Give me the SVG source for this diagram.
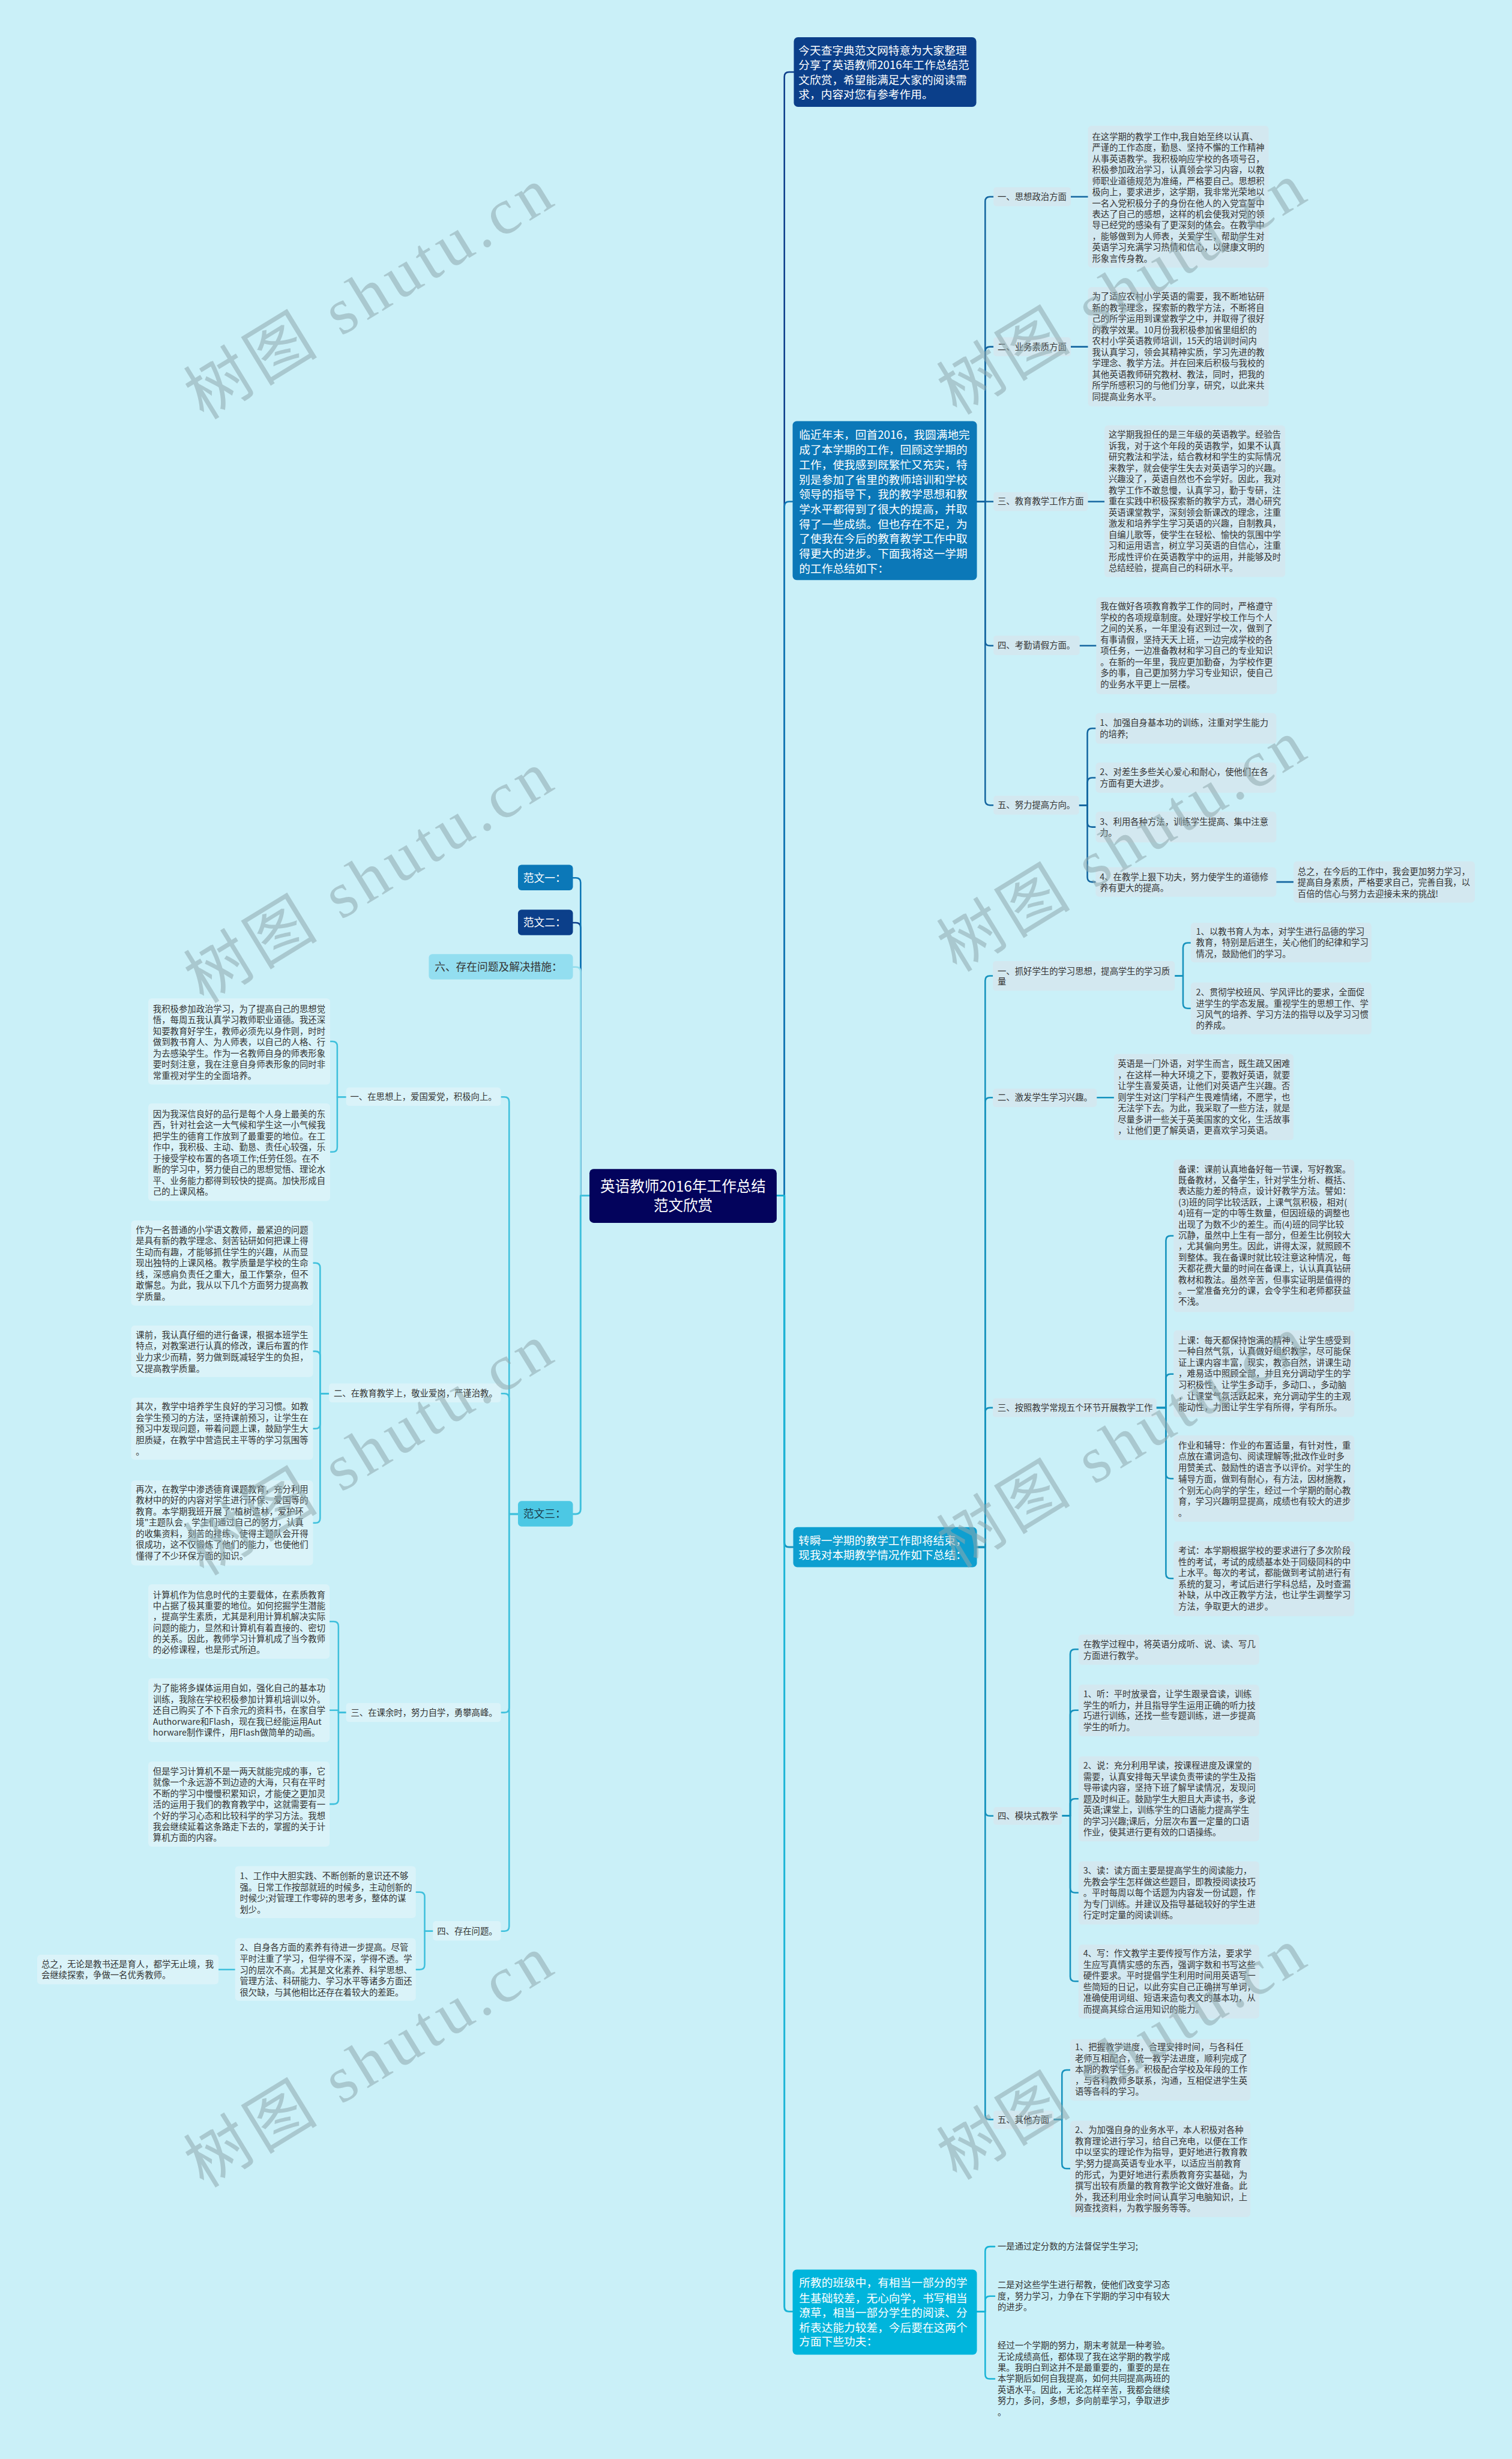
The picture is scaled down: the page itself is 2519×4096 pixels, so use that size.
<svg xmlns="http://www.w3.org/2000/svg" width="2519" height="4096" viewBox="0 0 2519 4096">
<style>
.t{font-family:"Noto Sans CJK SC","Noto Sans",sans-serif;font-size:14.6px;fill:#333}
.tw{font-family:"Noto Sans CJK SC","Noto Sans",sans-serif;font-size:19px;fill:#fff}
.tl{font-family:"Noto Sans CJK SC","Noto Sans",sans-serif;font-size:18px}
.rb{fill:#d3e8f0}
.lb{fill:#daf3f9}
.c{fill:none;stroke-width:2.6;stroke-linecap:round;stroke-linejoin:round}
.wm{font-family:"Liberation Serif","Noto Sans CJK SC",serif;font-size:110px;fill:#8fa9ae;opacity:0.55}
</style>
<rect x="0" y="0" width="2519" height="4096" fill="#caf0f8"/>
<g transform="scale(0.984)">
<g id="connectors">
<g class="c" stroke="#0d3f8c" stroke-width="3">
<path d="M1315,2024 H1328 V130 Q1328,122 1336,122 H1344"/>
<path d="M998,2024 H983 V1570 Q983,1562 975,1562 H970"/>
</g>
<g class="c" stroke="#0e77b5" stroke-width="3">
<path d="M1315,2024 H1328 V857 Q1328,849 1336,849 H1342"/>
<path d="M998,2024 H983 V1494 Q983,1486 975,1486 H970"/>
</g>
<g class="c" stroke="#1466a0">
<path d="M1654,849 H1668 V341 Q1668,333 1676,333 H1682"/>
<path d="M1654,849 H1668 V595 Q1668,587 1676,587 H1682"/>
<path d="M1654,849 H1682"/>
<path d="M1654,849 H1668 V1085 Q1668,1093 1676,1093 H1682"/>
<path d="M1654,849 H1668 V1355 Q1668,1363 1676,1363 H1682"/>
<path d="M1813,333 H1842"/>
<path d="M1813,587 H1842"/>
<path d="M1842,849 H1870"/>
<path d="M1828,1093 H1856"/>
<path d="M1827,1363 H1841 V1241 Q1841,1233 1849,1233 H1855"/>
<path d="M1827,1363 H1841 V1324.5 Q1841,1316.5 1849,1316.5 H1855"/>
<path d="M1827,1363 H1841 V1392 Q1841,1400 1849,1400 H1855"/>
<path d="M1827,1363 H1841 V1485 Q1841,1493 1849,1493 H1855"/>
<path d="M2161,1493 H2190"/>
</g>
<g class="c" stroke="#1592bd">
<path d="M1315,2024 H1328 V2611 Q1328,2619 1336,2619 H1343" stroke-width="3"/>
<path d="M1654,2619 H1668 V1660 Q1668,1652 1676,1652 H1681"/>
<path d="M1654,2619 H1668 V1866 Q1668,1858 1676,1858 H1681"/>
<path d="M1654,2619 H1668 V2391 Q1668,2383 1676,2383 H1681"/>
<path d="M1654,2619 H1668 V3066 Q1668,3074 1676,3074 H1682"/>
<path d="M1654,2619 H1668 V3580 Q1668,3588 1676,3588 H1682"/>
<path d="M1989,1652 H2003 V1604 Q2003,1596 2011,1596 H2016"/>
<path d="M1989,1652 H2003 V1699 Q2003,1707 2011,1707 H2016"/>
<path d="M1857,1858 H1886"/>
<path d="M1958,2383 H1974 V2100 Q1974,2092 1982,2092 H1987"/>
<path d="M1958,2383 H1974 V2334 Q1974,2326 1982,2326 H1987"/>
<path d="M1958,2383 H1974 V2495 Q1974,2503 1982,2503 H1987"/>
<path d="M1958,2383 H1974 V2664 Q1974,2672 1982,2672 H1987"/>
<path d="M1798,3074 H1812 V2800 Q1812,2792 1820,2792 H1826"/>
<path d="M1798,3074 H1812 V2903 Q1812,2895 1820,2895 H1826"/>
<path d="M1798,3074 H1812 V3053 Q1812,3045 1820,3045 H1826"/>
<path d="M1798,3074 H1812 V3196 Q1812,3204 1820,3204 H1826"/>
<path d="M1798,3074 H1812 V3346 Q1812,3354 1820,3354 H1826"/>
<path d="M1784,3588 H1798 V3512 Q1798,3504 1806,3504 H1812"/>
<path d="M1784,3588 H1798 V3663 Q1798,3671 1806,3671 H1812"/>
</g>
<g class="c" stroke="#1ab4d6">
<path d="M1315,2024 H1328 V3905 Q1328,3913 1336,3913 H1342" stroke-width="3"/>
<path d="M1654,3913 H1668 V3811 Q1668,3803 1676,3803 H1684"/>
<path d="M1654,3913 H1668 V3895 Q1668,3887 1676,3887 H1684"/>
<path d="M1654,3913 H1668 V4019 Q1668,4027 1676,4027 H1684"/>
</g>
<path class="c" stroke="#8fdcec" stroke-width="3" d="M998,2024 H983 V1645 Q983,1637 975,1637 H970"/>
<g class="c" stroke="#3fc0dc">
<path d="M998,2024 H983 V2555 Q983,2563 975,2563 H970" stroke-width="3"/>
<path d="M877,2563 H862 V1865 Q862,1857 854,1857 H849"/>
<path d="M877,2563 H862 V2367 Q862,2359 854,2359 H849"/>
<path d="M877,2563 H862 V2891 Q862,2899 854,2899 H849"/>
<path d="M877,2563 H862 V3261 Q862,3269 854,3269 H849"/>
<path d="M586,1857 H571 V1771 Q571,1763 563,1763 H559"/>
<path d="M586,1857 H571 V1942 Q571,1950 563,1950 H559"/>
<path d="M557,2359 H542 V2146 Q542,2138 534,2138 H530"/>
<path d="M557,2359 H542 V2295.5 Q542,2287.5 534,2287.5 H530"/>
<path d="M557,2359 H542 V2410.5 Q542,2418.5 534,2418.5 H530"/>
<path d="M557,2359 H542 V2570 Q542,2578 534,2578 H530"/>
<path d="M586,2899 H573 V2753 Q573,2745 565,2745 H558"/>
<path d="M586,2899 H573 V2895 H558"/>
<path d="M586,2899 H573 V3046 Q573,3054 565,3054 H558"/>
<path d="M733,3269 H719 V3211 Q719,3203 711,3203 H704"/>
<path d="M733,3269 H719 V3326 Q719,3334 711,3334 H704"/>
<path d="M398,3334 H370"/>
</g>
</g>

<g id="center">
<rect x="998" y="1979" width="317" height="91" rx="7" fill="#03035c"/>
<text font-family="Noto Sans CJK SC, sans-serif" font-size="25" fill="#fff" text-anchor="middle"><tspan x="1156.5" y="2017">英语教师2016年工作总结</tspan><tspan x="1156.5" y="2050">范文欣赏</tspan></text>
</g>

<g id="intro">
<rect x="1344" y="63" width="309" height="118" rx="7" fill="#0b3f8a"/>
<text class="tw"><tspan x="1352" y="92">今天查字典范文网特意为大家整理</tspan><tspan x="1352" y="117">分享了英语教师2016年工作总结范</tspan><tspan x="1352" y="142">文欣赏，希望能满足大家的阅读需</tspan><tspan x="1352" y="167">求，内容对您有参考作用。</tspan></text>
</g>

<g id="fanwen1">
<rect x="1342" y="713" width="312" height="269" rx="7" fill="#0b78b8"/>
<text class="tw"><tspan x="1353" y="743.3">临近年末，回首2016，我圆满地完</tspan><tspan x="1353" y="768.4">成了本学期的工作，回顾这学期的</tspan><tspan x="1353" y="793.5">工作，使我感到既繁忙又充实，特</tspan><tspan x="1353" y="818.6">别是参加了省里的教师培训和学校</tspan><tspan x="1353" y="843.7">领导的指导下，我的教学思想和教</tspan><tspan x="1353" y="868.8">学水平都得到了很大的提高，并取</tspan><tspan x="1353" y="893.9">得了一些成绩。但也存在不足，为</tspan><tspan x="1353" y="919">了使我在今后的教育教学工作中取</tspan><tspan x="1353" y="944.1">得更大的进步。下面我将这一学期</tspan><tspan x="1353" y="969.2">的工作总结如下：</tspan></text>
</g>

<g id="a1">
<rect class="rb" x="1682" y="317" width="131" height="32" rx="5"/>
<text class="t" x="1689" y="338">一、思想政治方面</text>
</g>
<g id="a1t">
<rect class="rb" x="1842" y="213" width="306" height="240" rx="6"/>
<text class="t"><tspan x="1849" y="236.7">在这学期的教学工作中,我自始至终以认真、</tspan><tspan x="1849" y="255.4">严谨的工作态度，勤恳、坚持不懈的工作精神</tspan><tspan x="1849" y="274.2">从事英语教学。我积极响应学校的各项号召，</tspan><tspan x="1849" y="292.9">积极参加政治学习，认真领会学习内容，以教</tspan><tspan x="1849" y="311.6">师职业道德规范为准绳，严格要自己。思想积</tspan><tspan x="1849" y="330.4">极向上，要求进步，这学期，我非常光荣地以</tspan><tspan x="1849" y="349.1">一名入党积极分子的身份在他人的入党宣誓中</tspan><tspan x="1849" y="367.8">表达了自己的感想，这样的机会使我对党的领</tspan><tspan x="1849" y="386.5">导已经党的感染有了更深刻的体会。在教学中</tspan><tspan x="1849" y="405.3">，能够做到为人师表，关爱学生，帮助学生对</tspan><tspan x="1849" y="424">英语学习充满学习热情和信心，以健康文明的</tspan><tspan x="1849" y="442.7">形象言传身教。</tspan></text>
</g>
<g id="a2">
<rect class="rb" x="1682" y="571" width="131" height="32" rx="5"/>
<text class="t" x="1689" y="592">二、业务素质方面</text>
</g>
<g id="a2t">
<rect class="rb" x="1842" y="486" width="306" height="202" rx="6"/>
<text class="t"><tspan x="1849" y="507.1">为了适应农村小学英语的需要，我不断地钻研</tspan><tspan x="1849" y="526">新的教学理念，探索新的教学方法，不断将自</tspan><tspan x="1849" y="544.8">己的所学运用到课堂教学之中，并取得了很好</tspan><tspan x="1849" y="563.7">的教学效果。10月份我积极参加省里组织的</tspan><tspan x="1849" y="582.6">农村小学英语教师培训，15天的培训时间内</tspan><tspan x="1849" y="601.4">我认真学习，领会其精神实质，学习先进的教</tspan><tspan x="1849" y="620.3">学理念、教学方法。并在回来后积极与我校的</tspan><tspan x="1849" y="639.2">其他英语教师研究教材、教法，同时，把我的</tspan><tspan x="1849" y="658">所学所感积习的与他们分享，研究，以此来共</tspan><tspan x="1849" y="676.9">同提高业务水平。</tspan></text>
</g>
<g id="a3">
<rect class="rb" x="1682" y="833" width="160" height="32" rx="5"/>
<text class="t" x="1689" y="854">三、教育教学工作方面</text>
</g>
<g id="a3t">
<rect class="rb" x="1870" y="720" width="306" height="257" rx="6"/>
<text class="t"><tspan x="1877" y="741.3">这学期我担任的是三年级的英语教学。经验告</tspan><tspan x="1877" y="760.1">诉我，对于这个年段的英语教学，如果不认真</tspan><tspan x="1877" y="778.9">研究教法和学法，结合教材和学生的实际情况</tspan><tspan x="1877" y="797.7">来教学，就会使学生失去对英语学习的兴趣。</tspan><tspan x="1877" y="816.5">兴趣没了，英语自然也不会学好。因此，我对</tspan><tspan x="1877" y="835.3">教学工作不敢怠慢，认真学习，勤于专研，注</tspan><tspan x="1877" y="854.1">重在实践中积极探索新的教学方式，潜心研究</tspan><tspan x="1877" y="872.9">英语课堂教学，深刻领会新课改的理念，注重</tspan><tspan x="1877" y="891.7">激发和培养学生学习英语的兴趣，自制教具，</tspan><tspan x="1877" y="910.5">自编儿歌等，使学生在轻松、愉快的氛围中学</tspan><tspan x="1877" y="929.3">习和运用语言，树立学习英语的自信心，注重</tspan><tspan x="1877" y="948.1">形成性评价在英语教学中的运用，并能够及时</tspan><tspan x="1877" y="966.9">总结经验，提高自己的科研水平。</tspan></text>
</g>
<g id="a4">
<rect class="rb" x="1682" y="1076" width="146" height="33" rx="5"/>
<text class="t" x="1689" y="1098">四、考勤请假方面。</text>
</g>
<g id="a4t">
<rect class="rb" x="1856" y="1011" width="306" height="164" rx="6"/>
<text class="t"><tspan x="1863" y="1032">我在做好各项教育教学工作的同时，严格遵守</tspan><tspan x="1863" y="1050.8">学校的各项规章制度。处理好学校工作与个人</tspan><tspan x="1863" y="1069.6">之间的关系，一年里没有迟到过一次，做到了</tspan><tspan x="1863" y="1088.4">有事请假，坚持天天上班，一边完成学校的各</tspan><tspan x="1863" y="1107.2">项任务，一边准备教材和学习自己的专业知识</tspan><tspan x="1863" y="1126">。在新的一年里，我应更加勤奋，为学校作更</tspan><tspan x="1863" y="1144.8">多的事，自己更加努力学习专业知识，使自己</tspan><tspan x="1863" y="1163.6">的业务水平更上一层楼。</tspan></text>
</g>
<g id="a5">
<rect class="rb" x="1682" y="1347" width="145" height="32" rx="5"/>
<text class="t" x="1689" y="1368">五、努力提高方向。</text>
</g>
<g id="a5s1">
<rect class="rb" x="1855" y="1207" width="306" height="52" rx="6"/>
<text class="t"><tspan x="1862" y="1229">1、加强自身基本功的训练，注重对学生能力</tspan><tspan x="1862" y="1248">的培养;</tspan></text>
</g>
<g id="a5s2">
<rect class="rb" x="1855" y="1291" width="306" height="51" rx="6"/>
<text class="t"><tspan x="1862" y="1312">2、对差生多些关心爱心和耐心，使他们在各</tspan><tspan x="1862" y="1331">方面有更大进步。</tspan></text>
</g>
<g id="a5s3">
<rect class="rb" x="1855" y="1374" width="306" height="52" rx="6"/>
<text class="t"><tspan x="1862" y="1396.7">3、利用各种方法，训练学生提高、集中注意</tspan><tspan x="1862" y="1415">力。</tspan></text>
</g>
<g id="a5s4">
<rect class="rb" x="1855" y="1468" width="306" height="50" rx="6"/>
<text class="t"><tspan x="1862" y="1490">4、在教学上狠下功夫，努力使学生的道德修</tspan><tspan x="1862" y="1508">养有更大的提高。</tspan></text>
</g>
<g id="a5sum">
<rect class="rb" x="2190" y="1458" width="307" height="70" rx="6"/>
<text class="t"><tspan x="2197" y="1481">总之，在今后的工作中，我会更加努力学习，</tspan><tspan x="2197" y="1499">提高自身素质，严格要求自己，完善自我，以</tspan><tspan x="2197" y="1518">百倍的信心与努力去迎接未来的挑战!</tspan></text>
</g>

<g id="fanwen2">
<rect x="1343" y="2585" width="311" height="68" rx="7" fill="#0e9fd0"/>
<text class="tw"><tspan x="1352" y="2615">转瞬一学期的教学工作即将结束，</tspan><tspan x="1352" y="2639">现我对本期教学情况作如下总结：</tspan></text>
</g>
<g id="b1">
<rect class="rb" x="1681" y="1627" width="308" height="50" rx="5"/>
<text class="t"><tspan x="1689" y="1649">一、抓好学生的学习思想，提高学生的学习质</tspan><tspan x="1689" y="1667">量</tspan></text>
</g>
<g id="b1s1">
<rect class="rb" x="2016" y="1562" width="306" height="67" rx="6"/>
<text class="t"><tspan x="2025" y="1582">1、以教书育人为本，对学生进行品德的学习</tspan><tspan x="2025" y="1601">教育，特别是后进生，关心他们的纪律和学习</tspan><tspan x="2025" y="1620">情况，鼓励他们的学习。</tspan></text>
</g>
<g id="b1s2">
<rect class="rb" x="2016" y="1663" width="306" height="88" rx="6"/>
<text class="t"><tspan x="2025" y="1685">2、贯彻学校班风、学风评比的要求，全面促</tspan><tspan x="2025" y="1704">进学生的学态发展。重视学生的思想工作、学</tspan><tspan x="2025" y="1722.5">习风气的培养、学习方法的指导以及学习习惯</tspan><tspan x="2025" y="1741">的养成。</tspan></text>
</g>
<g id="b2">
<rect class="rb" x="1681" y="1843" width="176" height="31" rx="5"/>
<text class="t" x="1689" y="1863">二、激发学生学习兴趣。</text>
</g>
<g id="b2t">
<rect class="rb" x="1886" y="1784" width="304" height="146" rx="6"/>
<text class="t"><tspan x="1892.5" y="1806">英语是一门外语，对学生而言，既生疏又困难</tspan><tspan x="1892.5" y="1824.8">，在这样一种大环境之下，要教好英语，就要</tspan><tspan x="1892.5" y="1843.6">让学生喜爱英语，让他们对英语产生兴趣。否</tspan><tspan x="1892.5" y="1862.4">则学生对这门学科产生畏难情绪，不愿学，也</tspan><tspan x="1892.5" y="1881.2">无法学下去。为此，我采取了一些方法，就是</tspan><tspan x="1892.5" y="1900">尽量多讲一些关于英美国家的文化，生活故事</tspan><tspan x="1892.5" y="1918.8">，让他们更了解英语，更喜欢学习英语。</tspan></text>
</g>
<g id="b3">
<rect class="rb" x="1681" y="2367" width="277" height="32" rx="5"/>
<text class="t" x="1689" y="2388">三、按照教学常规五个环节开展教学工作</text>
</g>
<g id="b3s1">
<rect class="rb" x="1987" y="1963" width="306" height="258" rx="6"/>
<text class="t"><tspan x="1995" y="1984.3">备课：课前认真地备好每一节课，写好教案。</tspan><tspan x="1995" y="2003">既备教材，又备学生，针对学生分析、概括、</tspan><tspan x="1995" y="2021.7">表达能力差的特点，设计好教学方法。譬如：</tspan><tspan x="1995" y="2040.4">(3)班的同学比较活跃，上课气氛积极，相对(</tspan><tspan x="1995" y="2059.1">4)班有一定的中等生数量，但因班级的调整也</tspan><tspan x="1995" y="2077.8">出现了为数不少的差生。而(4)班的同学比较</tspan><tspan x="1995" y="2096.5">沉静，虽然中上生有一部分，但差生比例较大</tspan><tspan x="1995" y="2115.2">，尤其偏向男生。因此，讲得太深，就照顾不</tspan><tspan x="1995" y="2133.9">到整体。我在备课时就比较注意这种情况，每</tspan><tspan x="1995" y="2152.6">天都花费大量的时间在备课上，认认真真钻研</tspan><tspan x="1995" y="2171.3">教材和教法。虽然辛苦，但事实证明是值得的</tspan><tspan x="1995" y="2190">。一堂准备充分的课，会令学生和老师都获益</tspan><tspan x="1995" y="2208.7">不浅。</tspan></text>
</g>
<g id="b3s2">
<rect class="rb" x="1987" y="2252" width="306" height="147" rx="6"/>
<text class="t"><tspan x="1995" y="2274">上课：每天都保持饱满的精神，让学生感受到</tspan><tspan x="1995" y="2292.9">一种自然气氛，认真做好组织教学，尽可能保</tspan><tspan x="1995" y="2311.8">证上课内容丰富，现实，教态自然，讲课生动</tspan><tspan x="1995" y="2330.7">，难易适中照顾全部，并且充分调动学生的学</tspan><tspan x="1995" y="2349.6">习积极性，让学生多动手，多动口、，多动脑</tspan><tspan x="1995" y="2368.5">，让课堂气氛活跃起来，充分调动学生的主观</tspan><tspan x="1995" y="2387.4">能动性，力图让学生学有所得，学有所乐。</tspan></text>
</g>
<g id="b3s3">
<rect class="rb" x="1987" y="2430" width="306" height="146" rx="6"/>
<text class="t"><tspan x="1995" y="2452">作业和辅导：作业的布置适量，有针对性，重</tspan><tspan x="1995" y="2471">点放在遣词造句、阅读理解等;批改作业时多</tspan><tspan x="1995" y="2490">用赞美式、鼓励性的语言予以评价。对学生的</tspan><tspan x="1995" y="2509">辅导方面，做到有耐心，有方法，因材施教，</tspan><tspan x="1995" y="2528">个别无心向学的学生，经过一个学期的耐心教</tspan><tspan x="1995" y="2547">育，学习兴趣明显提高，成绩也有较大的进步</tspan><tspan x="1995" y="2566">。</tspan></text>
</g>
<g id="b3s4">
<rect class="rb" x="1987" y="2609" width="306" height="127" rx="6"/>
<text class="t"><tspan x="1995" y="2630">考试：本学期根据学校的要求进行了多次阶段</tspan><tspan x="1995" y="2648.9">性的考试，考试的成绩基本处于同级同科的中</tspan><tspan x="1995" y="2667.8">上水平。每次的考试，都能做到考试前进行有</tspan><tspan x="1995" y="2686.7">系统的复习，考试后进行学科总结，及时查漏</tspan><tspan x="1995" y="2705.6">补缺，从中改正教学方法，也让学生调整学习</tspan><tspan x="1995" y="2724.5">方法，争取更大的进步。</tspan></text>
</g>
<g id="b4">
<rect class="rb" x="1682" y="3059" width="116" height="30" rx="5"/>
<text class="t" x="1689" y="3079">四、模块式教学</text>
</g>
<g id="b4s0">
<rect class="rb" x="1826" y="2767" width="306" height="51" rx="6"/>
<text class="t"><tspan x="1834" y="2789">在教学过程中，将英语分成听、说、读、写几</tspan><tspan x="1834" y="2808">方面进行教学。</tspan></text>
</g>
<g id="b4s1">
<rect class="rb" x="1826" y="2852" width="306" height="87" rx="6"/>
<text class="t"><tspan x="1834" y="2873">1、听：平时放录音，让学生跟录音读，训练</tspan><tspan x="1834" y="2892">学生的听力，并且指导学生运用正确的听力技</tspan><tspan x="1834" y="2910">巧进行训练，还找一些专题训练，进一步提高</tspan><tspan x="1834" y="2929">学生的听力。</tspan></text>
</g>
<g id="b4s2">
<rect class="rb" x="1826" y="2973" width="306" height="144" rx="6"/>
<text class="t"><tspan x="1834" y="2994">2、说：充分利用早读，按课程进度及课堂的</tspan><tspan x="1834" y="3012.8">需要，认真安排每天早读负责带读的学生及指</tspan><tspan x="1834" y="3031.6">导带读内容，坚持下班了解早读情况，发现问</tspan><tspan x="1834" y="3050.4">题及时纠正。鼓励学生大胆且大声读书，多说</tspan><tspan x="1834" y="3069.2">英语;课堂上，训练学生的口语能力提高学生</tspan><tspan x="1834" y="3088">的学习兴趣;课后，分层次布置一定量的口语</tspan><tspan x="1834" y="3106.8">作业，使其进行更有效的口语操练。</tspan></text>
</g>
<g id="b4s3">
<rect class="rb" x="1826" y="3151" width="306" height="107" rx="6"/>
<text class="t"><tspan x="1834" y="3172">3、读：读方面主要是提高学生的阅读能力，</tspan><tspan x="1834" y="3190.75">先教会学生怎样做这些题目，即教授阅读技巧</tspan><tspan x="1834" y="3209.5">。平时每周以每个话题为内容发一份试题，作</tspan><tspan x="1834" y="3228.25">为专门训练。并建议及指导基础较好的学生进</tspan><tspan x="1834" y="3247">行定时定量的阅读训练。</tspan></text>
</g>
<g id="b4s4">
<rect class="rb" x="1826" y="3292" width="306" height="125" rx="6"/>
<text class="t"><tspan x="1834" y="3312">4、写：作文教学主要传授写作方法，要求学</tspan><tspan x="1834" y="3330.8">生应写真情实感的东西，强调字数和书写这些</tspan><tspan x="1834" y="3349.6">硬件要求。平时提倡学生利用时间用英语写一</tspan><tspan x="1834" y="3368.4">些简短的日记，以此夯实自己正确拼写单词，</tspan><tspan x="1834" y="3387.2">准确使用词组、短语来造句表文的基本功，从</tspan><tspan x="1834" y="3406">而提高其综合运用知识的能力。</tspan></text>
</g>
<g id="b5">
<rect class="rb" x="1682" y="3573" width="102" height="31" rx="5"/>
<text class="t" x="1689" y="3593">五、其他方面</text>
</g>
<g id="b5s1">
<rect class="rb" x="1812" y="3452" width="305" height="104" rx="6"/>
<text class="t"><tspan x="1820" y="3471">1、把握教学进度，合理安排时间，与各科任</tspan><tspan x="1820" y="3489.7">老师互相配合，统一教学法进度，顺利完成了</tspan><tspan x="1820" y="3508.4">本期的教学任务。积极配合学校及年段的工作</tspan><tspan x="1820" y="3527.1">，与各科教师多联系，沟通，互相促进学生英</tspan><tspan x="1820" y="3545.8">语等各科的学习。</tspan></text>
</g>
<g id="b5s2">
<rect class="rb" x="1812" y="3590" width="305" height="163" rx="6"/>
<text class="t"><tspan x="1820" y="3611">2、为加强自身的业务水平，本人积极对各种</tspan><tspan x="1820" y="3629.9">教育理论进行学习，给自己充电，以便在工作</tspan><tspan x="1820" y="3648.8">中以坚实的理论作为指导，更好地进行教育教</tspan><tspan x="1820" y="3667.7">学;努力提高英语专业水平，以适应当前教育</tspan><tspan x="1820" y="3686.6">的形式，为更好地进行素质教育夯实基础，为</tspan><tspan x="1820" y="3705.5">撰写出较有质量的教育教学论文做好准备。此</tspan><tspan x="1820" y="3724.4">外，我还利用业余时间认真学习电脑知识，上</tspan><tspan x="1820" y="3743.3">网查找资料，为教学服务等等。</tspan></text>
</g>

<g id="fanwen2b">
<rect x="1342" y="3842" width="312" height="144" rx="7" fill="#00b5dc"/>
<text class="tw"><tspan x="1353" y="3871">所教的班级中，有相当一部分的学</tspan><tspan x="1353" y="3897">生基础较差，无心向学，书写相当</tspan><tspan x="1353" y="3922">潦草，相当一部分学生的阅读、分</tspan><tspan x="1353" y="3947">析表达能力较差，今后要在这两个</tspan><tspan x="1353" y="3971">方面下些功夫：</tspan></text>
</g>
<g id="c1"><text class="t" x="1689" y="3808">一是通过定分数的方法督促学生学习;</text></g>
<g id="c2"><text class="t"><tspan x="1689" y="3873">二是对这些学生进行帮教，使他们改变学习态</tspan><tspan x="1689" y="3892">度，努力学习，力争在下学期的学习中有较大</tspan><tspan x="1689" y="3911">的进步。</tspan></text></g>
<g id="c3"><text class="t"><tspan x="1689" y="3976">经过一个学期的努力，期末考就是一种考验。</tspan><tspan x="1689" y="3994.5">无论成绩高低，都体现了我在这学期的教学成</tspan><tspan x="1689" y="4013">果。我明白到这并不是最重要的，重要的是在</tspan><tspan x="1689" y="4031.5">本学期后如何自我提高，如何共同提高两班的</tspan><tspan x="1689" y="4050.5">英语水平。因此，无论怎样辛苦，我都会继续</tspan><tspan x="1689" y="4069">努力，多问，多想，多向前辈学习，争取进步</tspan><tspan x="1689" y="4088">。</tspan></text></g>

<g id="fw1">
<rect x="877" y="1464" width="93" height="43" rx="6" fill="#0b78b8"/>
<text class="tl" x="886" y="1492.5" fill="#fff">范文一：</text>
</g>
<g id="fw2">
<rect x="877" y="1540" width="93" height="43" rx="6" fill="#0b3f8a"/>
<text class="tl" x="886" y="1568.5" fill="#fff">范文二：</text>
</g>
<g id="fw6">
<rect x="726" y="1615" width="244" height="43" rx="6" fill="#93def0"/>
<text class="tl" x="736" y="1643.5" fill="#333">六、存在问题及解决措施：</text>
</g>
<g id="fw3">
<rect x="877" y="2541" width="93" height="43" rx="6" fill="#4cc8e4"/>
<text class="tl" x="886" y="2569.5" fill="#1b3b4b">范文三：</text>
</g>

<g id="l1">
<rect class="lb" x="586" y="1841" width="262" height="31" rx="5"/>
<text class="t" x="593" y="1862">一、在思想上，爱国爱党，积极向上。</text>
</g>
<g id="l1a">
<rect class="lb" x="251" y="1690" width="308" height="146" rx="6"/>
<text class="t"><tspan x="259" y="1713">我积极参加政治学习，为了提高自己的思想觉</tspan><tspan x="259" y="1731.8">悟，每周五我认真学习教师职业道德。我还深</tspan><tspan x="259" y="1750.6">知要教育好学生，教师必须先以身作则，时时</tspan><tspan x="259" y="1769.4">做到教书育人、为人师表，以自己的人格、行</tspan><tspan x="259" y="1788.2">为去感染学生。作为一名教师自身的师表形象</tspan><tspan x="259" y="1807">要时刻注意，我在注意自身师表形象的同时非</tspan><tspan x="259" y="1825.8">常重视对学生的全面培养。</tspan></text>
</g>
<g id="l1b">
<rect class="lb" x="251" y="1868" width="308" height="165" rx="6"/>
<text class="t"><tspan x="259" y="1891">因为我深信良好的品行是每个人身上最美的东</tspan><tspan x="259" y="1909.8">西，针对社会这一大气候和学生这一小气候我</tspan><tspan x="259" y="1928.6">把学生的德育工作放到了最重要的地位。在工</tspan><tspan x="259" y="1947.4">作中，我积极、主动、勤恳、责任心较强，乐</tspan><tspan x="259" y="1966.2">于接受学校布置的各项工作;任劳任怨。在不</tspan><tspan x="259" y="1985">断的学习中，努力使自己的思想觉悟、理论水</tspan><tspan x="259" y="2003.8">平、业务能力都得到较快的提高。加快形成自</tspan><tspan x="259" y="2022.6">己的上课风格。</tspan></text>
</g>
<g id="l2">
<rect class="lb" x="557" y="2342" width="291" height="32" rx="5"/>
<text class="t" x="565" y="2364">二、在教育教学上，敬业爱岗，严谨治教。</text>
</g>
<g id="l2a">
<rect class="lb" x="222" y="2066" width="308" height="144" rx="6"/>
<text class="t"><tspan x="230" y="2087">作为一名普通的小学语文教师，最紧迫的问题</tspan><tspan x="230" y="2105.8">是具有新的教学理念、刻苦钻研如何把课上得</tspan><tspan x="230" y="2124.6">生动而有趣，才能够抓住学生的兴趣，从而显</tspan><tspan x="230" y="2143.4">现出独特的上课风格。教学质量是学校的生命</tspan><tspan x="230" y="2162.2">线，深感肩负责任之重大，虽工作繁杂，但不</tspan><tspan x="230" y="2181">敢懈怠。为此，我从以下几个方面努力提高教</tspan><tspan x="230" y="2199.8">学质量。</tspan></text>
</g>
<g id="l2b">
<rect class="lb" x="222" y="2244" width="308" height="87" rx="6"/>
<text class="t"><tspan x="230" y="2265">课前，我认真仔细的进行备课，根据本班学生</tspan><tspan x="230" y="2284">特点，对教案进行认真的修改，课后布置的作</tspan><tspan x="230" y="2303">业力求少而精，努力做到既减轻学生的负担，</tspan><tspan x="230" y="2322">又提高教学质量。</tspan></text>
</g>
<g id="l2c">
<rect class="lb" x="222" y="2366" width="308" height="105" rx="6"/>
<text class="t"><tspan x="230" y="2386">其次，教学中培养学生良好的学习习惯。如教</tspan><tspan x="230" y="2405">会学生预习的方法，坚持课前预习，让学生在</tspan><tspan x="230" y="2424">预习中发现问题，带着问题上课，鼓励学生大</tspan><tspan x="230" y="2443">胆质疑，在教学中营造民主平等的学习氛围等</tspan><tspan x="230" y="2462">。</tspan></text>
</g>
<g id="l2d">
<rect class="lb" x="222" y="2506" width="308" height="144" rx="6"/>
<text class="t"><tspan x="230" y="2526">再次，在教学中渗透德育课题教育，充分利用</tspan><tspan x="230" y="2544.8">教材中的好的内容对学生进行环保、爱国等的</tspan><tspan x="230" y="2563.6">教育。本学期我班开展了"植树造林，爱护环</tspan><tspan x="230" y="2582.4">境"主题队会，学生们通过自己的努力，认真</tspan><tspan x="230" y="2601.2">的收集资料，刻苦的排练，使得主题队会开得</tspan><tspan x="230" y="2620">很成功，这不仅锻炼了他们的能力，也使他们</tspan><tspan x="230" y="2638.8">懂得了不少环保方面的知识。</tspan></text>
</g>
<g id="l3">
<rect class="lb" x="586" y="2883" width="262" height="32" rx="5"/>
<text class="t" x="594" y="2904">三、在课余时，努力自学，勇攀高峰。</text>
</g>
<g id="l3a">
<rect class="lb" x="251" y="2682" width="307" height="126" rx="6"/>
<text class="t"><tspan x="259" y="2705">计算机作为信息时代的主要载体，在素质教育</tspan><tspan x="259" y="2723.6">中占据了极其重要的地位。如何挖掘学生潜能</tspan><tspan x="259" y="2742.2">，提高学生素质，尤其是利用计算机解决实际</tspan><tspan x="259" y="2760.8">问题的能力，显然和计算机有着直接的、密切</tspan><tspan x="259" y="2779.4">的关系。因此，教师学习计算机成了当今教师</tspan><tspan x="259" y="2798">的必修课程，也是形式所迫。</tspan></text>
</g>
<g id="l3b">
<rect class="lb" x="251" y="2841" width="307" height="108" rx="6"/>
<text class="t"><tspan x="259" y="2863">为了能将多媒体运用自如，强化自己的基本功</tspan><tspan x="259" y="2881.8">训练，我除在学校积极参加计算机培训以外。</tspan><tspan x="259" y="2900.6">还自己购买了不下百余元的资料书，在家自学</tspan><tspan x="259" y="2919.4">Authorware和Flash，现在我已经能运用Aut</tspan><tspan x="259" y="2938.2">horware制作课件，用Flash做简单的动画。</tspan></text>
</g>
<g id="l3c">
<rect class="lb" x="251" y="2982" width="307" height="144" rx="6"/>
<text class="t"><tspan x="259" y="3004">但是学习计算机不是一两天就能完成的事，它</tspan><tspan x="259" y="3022.7">就像一个永远游不到边迹的大海，只有在平时</tspan><tspan x="259" y="3041.4">不断的学习中慢慢积累知识，才能使之更加灵</tspan><tspan x="259" y="3060.1">活的运用于我们的教育教学中，这就需要有一</tspan><tspan x="259" y="3078.8">个好的学习心态和比较科学的学习方法。我想</tspan><tspan x="259" y="3097.5">我会继续延着这条路走下去的，掌握的关于计</tspan><tspan x="259" y="3116.2">算机方面的内容。</tspan></text>
</g>
<g id="l4">
<rect class="lb" x="733" y="3252" width="115" height="33" rx="5"/>
<text class="t" x="740" y="3274">四、存在问题。</text>
</g>
<g id="l4a">
<rect class="lb" x="398" y="3159" width="306" height="88" rx="6"/>
<text class="t"><tspan x="406" y="3181">1、工作中大胆实践、不断创新的意识还不够</tspan><tspan x="406" y="3200">强。日常工作按部就班的时候多，主动创新的</tspan><tspan x="406" y="3219">时候少;对管理工作零碎的思考多，整体的谋</tspan><tspan x="406" y="3238">划少。</tspan></text>
</g>
<g id="l4b">
<rect class="lb" x="398" y="3281" width="306" height="106" rx="6"/>
<text class="t"><tspan x="406" y="3302">2、自身各方面的素养有待进一步提高。尽管</tspan><tspan x="406" y="3321">平时注重了学习，但学得不深，学得不透。学</tspan><tspan x="406" y="3340">习的层次不高。尤其是文化素养、科学思想、</tspan><tspan x="406" y="3359">管理方法、科研能力、学习水平等诸多方面还</tspan><tspan x="406" y="3378">很欠缺，与其他相比还存在着较大的差距。</tspan></text>
</g>
<g id="l4sum">
<rect class="lb" x="63" y="3309" width="307" height="50" rx="6"/>
<text class="t"><tspan x="70" y="3330">总之，无论是教书还是育人，都学无止境，我</tspan><tspan x="70" y="3349">会继续探索，争做一名优秀教师。</tspan></text>
</g>

<g id="watermarks">
<text class="wm" transform="translate(345,712) rotate(-31.5)" textLength="700" lengthAdjust="spacing">树图 shutu.cn</text>
<text class="wm" transform="translate(1620,704) rotate(-31.5)" textLength="700" lengthAdjust="spacing">树图 shutu.cn</text>
<text class="wm" transform="translate(345,1700) rotate(-31.5)" textLength="700" lengthAdjust="spacing">树图 shutu.cn</text>
<text class="wm" transform="translate(1620,1647) rotate(-31.5)" textLength="700" lengthAdjust="spacing">树图 shutu.cn</text>
<text class="wm" transform="translate(345,2669) rotate(-31.5)" textLength="700" lengthAdjust="spacing">树图 shutu.cn</text>
<text class="wm" transform="translate(1620,2656) rotate(-31.5)" textLength="700" lengthAdjust="spacing">树图 shutu.cn</text>
<text class="wm" transform="translate(345,3705) rotate(-31.5)" textLength="700" lengthAdjust="spacing">树图 shutu.cn</text>
<text class="wm" transform="translate(1620,3692) rotate(-31.5)" textLength="700" lengthAdjust="spacing">树图 shutu.cn</text>
</g>
</g>
</svg>
